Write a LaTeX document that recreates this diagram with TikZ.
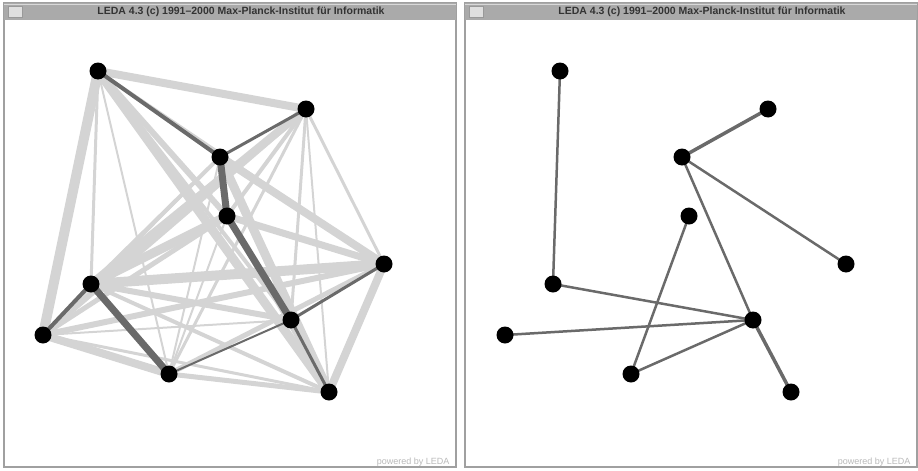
\documentclass[tikz,border=0pt]{standalone}
\usepackage{fontspec}
\setmainfont{Liberation Sans}
\definecolor{ledalight}{HTML}{D4D4D4}
\definecolor{ledadark}{HTML}{6A6A6A}
\definecolor{titlegray}{HTML}{AAAAAA}
\definecolor{framegray}{HTML}{A0A0A0}

\begin{document}
\begin{tikzpicture}[
    x=1pt, y=-1pt,
    vertex/.style={circle, fill=black, inner sep=0pt, minimum size=17pt},
    lightedge/.style={draw=ledalight},
    treeedge/.style={draw=ledadark, line cap=round},
    titletext/.style={font=\bfseries\fontsize{10.5}{11}\selectfont, text=black!80, inner sep=1pt},
    footer/.style={font=\fontsize{9}{10}\selectfont, text=gray!55},
]
\useasboundingbox (0,0) rectangle (918,471);

% === Window frames ===
\foreach \wx/\wn in {0/lw, 461/rw} {
    \draw[framegray, line width=1.5pt] (\wx+4,3) rectangle (\wx+456,467);
    \fill[titlegray] (\wx+4,3) rectangle (\wx+456,20);
    \draw[gray!30, line width=0.5pt] (\wx+4,4) -- (\wx+456,4);
    \draw[gray!80, line width=0.6pt, fill=gray!25] (\wx+8,6) rectangle (\wx+22,17);
    \node[titletext] (\wn-title) at (\wx+241,11.5)
        {LEDA 4.3 (c) 1991--2000 Max-Planck-Institut für Informatik};
    \node[footer, anchor=east] (\wn-foot) at (\wx+453,462) {powered by LEDA};
}

% === Vertex positions (same layout in both windows) ===
\foreach \n/\x/\y in {a/98/71, b/306/109, c/220/157, d/227/216, e/384/264,
                      f/91/284, g/43/335, h/291/320, i/169/374, j/329/392} {
    \coordinate (L\n) at (\x,\y);
    \coordinate (R\n) at (\x+462,\y);
}

% === Left: complete graph, light edges ===
\foreach \u/\v/\w in {a/b/8, a/d/6, a/e/3, a/f/3, a/g/10, a/h/4, a/i/2, a/j/9,
                      b/d/4, b/e/3, b/f/8, b/g/6, b/h/3, b/i/3, b/j/2,
                      c/e/8, c/f/4, c/g/3, c/h/3, c/i/2, c/j/9,
                      d/e/7, d/f/9, d/g/5, d/i/2, d/j/4,
                      e/f/10, e/g/6, e/i/5, e/j/8,
                      f/h/6, f/j/4,
                      g/h/2, g/i/8, g/j/3,
                      i/j/5}
    \draw[lightedge, line width=\w pt] (L\u) -- (L\v);

% === Left: highlighted tree ===
\foreach \u/\v/\w in {a/c/4, b/c/3, c/d/7, d/h/7, h/e/3, h/j/3,
                      f/g/4, f/i/7, i/h/2}
    \draw[treeedge, line width=\w pt] (L\u) -- (L\v);

% === Right: spanning tree ===
\foreach \u/\v/\w in {a/f/2.5, b/c/3.5, c/h/2.5, c/e/2.5, d/i/2.5,
                      f/h/2.5, g/h/2.5, i/h/2.5, h/j/3.5}
    \draw[treeedge, line width=\w pt] (R\u) -- (R\v);

% === Vertices ===
\foreach \n in {a,b,c,d,e,f,g,h,i,j} {
    \node[vertex] (l-\n) at (L\n) {};
    \node[vertex] (r-\n) at (R\n) {};
}

\end{tikzpicture}
\end{document}
